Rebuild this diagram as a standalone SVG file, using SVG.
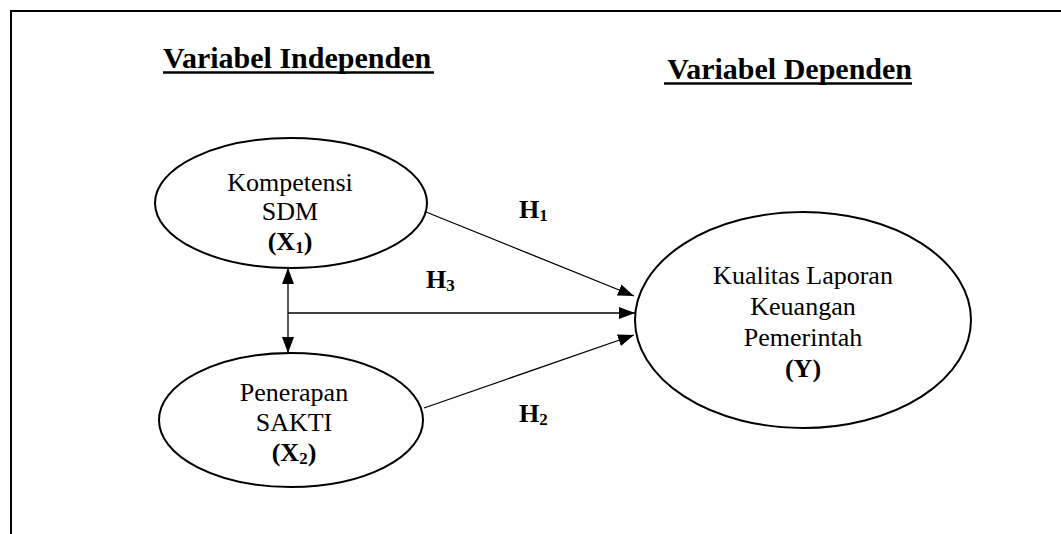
<svg xmlns="http://www.w3.org/2000/svg" width="1061" height="534" viewBox="0 0 1061 534">
<defs>
<style>
.t{font-family:"Liberation Serif","Times New Roman",serif;font-size:26px;fill:#000;text-anchor:middle}
.b{font-weight:bold}
.title{font-family:"Liberation Serif","Times New Roman",serif;font-size:30px;font-weight:bold;fill:#000}
.ul{stroke:#000;stroke-width:2.5}
.h{font-family:"Liberation Serif","Times New Roman",serif;font-size:26px;font-weight:bold;fill:#000}
.sub{font-size:17px}
.node{fill:#fff;stroke:#000;stroke-width:2}
.edge{fill:none;stroke:#000;stroke-width:1.3}
</style>
<marker id="ah2" viewBox="0 0 16 12" refX="16" refY="6" markerWidth="16" markerHeight="12" markerUnits="userSpaceOnUse" orient="auto-start-reverse">
<path d="M0,0 L16,6 L0,12 Z" fill="#000"/>
</marker>
</defs>
<rect width="1061" height="534" fill="#fff"/>
<path d="M11,534 V11 H1061" fill="none" stroke="#000" stroke-width="2"/>
<g id="titles">
<text class="title" x="163" y="68">Variabel Independen</text>
<line class="ul" x1="163" y1="72.5" x2="434" y2="72.5"/>
<text class="title" x="912" y="79" text-anchor="end">Variabel Dependen</text>
<line class="ul" x1="664" y1="83.5" x2="912" y2="83.5"/>
</g>
<g id="connectors">
<line class="edge" x1="288" y1="268" x2="288" y2="353" marker-start="url(#ah2)" marker-end="url(#ah2)"/>
<line class="edge" x1="288" y1="313" x2="635" y2="313" marker-end="url(#ah2)"/>
<line class="edge" x1="426" y1="212" x2="634" y2="296" marker-end="url(#ah2)"/>
<line class="edge" x1="424" y1="408" x2="634" y2="335" marker-end="url(#ah2)"/>
<text class="h" x="519" y="218">H<tspan class="sub" dy="3">1</tspan></text>
<text class="h" x="426" y="288">H<tspan class="sub" dy="3">3</tspan></text>
<text class="h" x="519" y="422">H<tspan class="sub" dy="3">2</tspan></text>
</g>
<g id="x1">
<ellipse class="node" cx="291" cy="203" rx="136" ry="65"/>
<text class="t" x="290" y="191">Kompetensi</text>
<text class="t" x="290" y="220">SDM</text>
<text class="t b" x="290" y="250">(X<tspan class="sub" dy="3">1</tspan><tspan dy="-3">)</tspan></text>
</g>
<g id="x2">
<ellipse class="node" cx="291" cy="420" rx="132" ry="67"/>
<text class="t" x="294" y="401">Penerapan</text>
<text class="t" x="294" y="431">SAKTI</text>
<text class="t b" x="294" y="461">(X<tspan class="sub" dy="3">2</tspan><tspan dy="-3">)</tspan></text>
</g>
<g id="y">
<ellipse class="node" cx="803" cy="320" rx="168" ry="108"/>
<text class="t" x="803" y="284">Kualitas Laporan</text>
<text class="t" x="803" y="315">Keuangan</text>
<text class="t" x="803" y="346">Pemerintah</text>
<text class="t b" x="803" y="377">(Y)</text>
</g>
</svg>
